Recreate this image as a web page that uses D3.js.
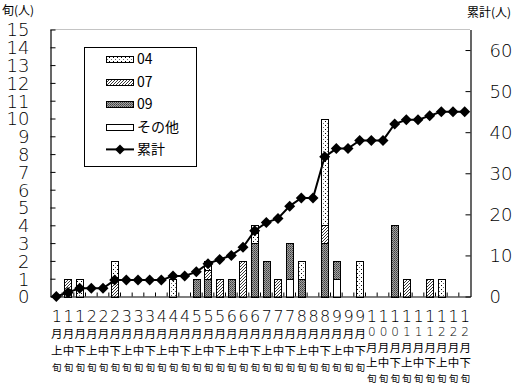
<!DOCTYPE html>
<html lang="ja">
<head>
<meta charset="UTF-8">
<title>旬別人数</title>
<script src="https://cdn.jsdelivr.net/npm/d3@7"></script>
<style>
    body { margin: 0; background: #fff; }
    svg text { font-family: "Liberation Sans", "Noto Sans CJK JP", sans-serif; fill: #000; }
    .cjk { font-family: "Noto Sans CJK JP", sans-serif; }
    .num { font-family: "DejaVu Sans", sans-serif; font-weight: 200; }
</style>
</head>
<body>
<svg id="chart" width="514" height="386"></svg>
<script>
    // categories (1月上旬 ... 12月下旬)
    var categories = [
        "1月上旬", "1月中旬", "1月下旬", "2月上旬", "2月中旬", "2月下旬",
        "3月上旬", "3月中旬", "3月下旬", "4月上旬", "4月中旬", "4月下旬",
        "5月上旬", "5月中旬", "5月下旬", "6月上旬", "6月中旬", "6月下旬",
        "7月上旬", "7月中旬", "7月下旬", "8月上旬", "8月中旬", "8月下旬",
        "9月上旬", "9月中旬", "9月下旬", "10月上旬", "10月中旬", "10月下旬",
        "11月上旬", "11月中旬", "11月下旬", "12月上旬", "12月中旬", "12月下旬"
    ];
    var s04   = [0,0,1,0,0,1, 0,0,0,0,1,0, 0,0.5,0,0,0,1, 0,0,0,1,0,6, 0,0,2,0,0,0, 0,0,0,1,0,0];
    var s07   = [0,1,0,0,0,1, 0,0,0,0,0,0, 0,0.5,1,0,2,0, 0,1,0,0,0,1, 0,0,0,0,0,0, 1,0,1,0,0,0];
    var s09   = [0,0,0,0,0,0, 0,0,0,0,0,0, 1,1,0,1,0,3, 2,0,2,1,0,3, 1,0,0,0,0,4, 0,0,0,0,0,0];
    var other = [0,0,0,0,0,0, 0,0,0,0,0,0, 0,0,0,0,0,0, 0,0,1,0,0,0, 1,0,0,0,0,0, 0,0,0,0,0,0];
    var cumulative = [0,1,2,2,2,4, 4,4,4,4,5,5, 6,8,9,10,12,16, 18,19,22,24,24,34, 36,36,38,38,38,42, 43,43,44,45,45,45];
    var leftTicks = d3.range(0, 16);
    var rightTicks = [0, 10, 20, 30, 40, 50, 60];

    var svg = d3.select("#chart");
    var pL = 50.5, pR = 470.5, pT = 29.5, pB = 296.5;

    // patterns
    var defs = svg.append("defs");
    var pDot = defs.append("pattern").attr("id", "p04").attr("patternUnits", "userSpaceOnUse")
        .attr("width", 4).attr("height", 4);
    pDot.append("rect").attr("width", 4).attr("height", 4).attr("fill", "#fff");
    pDot.append("rect").attr("x", 1).attr("y", 1).attr("width", 1).attr("height", 1).attr("fill", "#000");
    pDot.append("rect").attr("x", 3).attr("y", 3).attr("width", 1).attr("height", 1).attr("fill", "#666");

    var pHatch = defs.append("pattern").attr("id", "p07").attr("patternUnits", "userSpaceOnUse")
        .attr("width", 3).attr("height", 3);
    pHatch.append("rect").attr("width", 3).attr("height", 3).attr("fill", "#fff");
    pHatch.append("path").attr("d", "M0,3 L3,0 M-1,1 L1,-1 M2,4 L4,2")
        .attr("stroke", "#222").attr("stroke-width", 0.9);

    var pGray = defs.append("pattern").attr("id", "p09").attr("patternUnits", "userSpaceOnUse")
        .attr("width", 2).attr("height", 2);
    pGray.append("rect").attr("width", 2).attr("height", 2).attr("fill", "#a2a2a2");
    pGray.append("rect").attr("width", 1).attr("height", 1).attr("fill", "#404040");
    pGray.append("rect").attr("x", 1).attr("y", 1).attr("width", 1).attr("height", 1).attr("fill", "#5c5c5c");

    var x = d3.scaleBand().domain(categories).range([pL, pR]).paddingInner(0.38).paddingOuter(0.19);
    var xStep = d3.scaleBand().domain(categories).range([pL, pR]);
    var y = d3.scaleLinear().domain([0, 15]).range([pB, pT]);
    var y2 = d3.scaleLinear().domain([0, 65]).range([pB, pT]);

    // top border (dotted)
    svg.append("line").attr("x1", pL).attr("x2", pR).attr("y1", pT).attr("y2", pT)
        .attr("stroke", "#888").attr("stroke-dasharray", "1,1");

    // stacked bars
    var rows = categories.map(function (c, i) {
        return { cat: c, other: other[i], s09: s09[i], s07: s07[i], s04: s04[i] };
    });
    var keys = ["other", "s09", "s07", "s04"];
    var fills = { other: "#fff", s09: "url(#p09)", s07: "url(#p07)", s04: "url(#p04)" };
    var stack = d3.stack().keys(keys)(rows);
    stack.forEach(function (layer) {
        svg.append("g").selectAll("rect")
            .data(layer.filter(function (d) { return d[1] - d[0] > 0; }))
            .join("rect")
            .attr("x", function (d) { return Math.round(x(d.data.cat)) + 0.5; })
            .attr("width", Math.round(x.bandwidth()))
            .attr("y", function (d) { return Math.round(y(d[1])) + 0.5; })
            .attr("height", function (d) { return Math.round(y(d[0])) - Math.round(y(d[1])); })
            .attr("fill", fills[layer.key])
            .attr("stroke", "#000").attr("stroke-width", 1);
    });

    // axes
    var axL = svg.append("g").attr("transform", "translate(" + pL + ",0)")
        .call(d3.axisLeft(y).tickValues(leftTicks).tickSizeInner(-5).tickSizeOuter(0).tickPadding(21));
    var axR = svg.append("g").attr("transform", "translate(" + pR + ",0)")
        .call(d3.axisRight(y2).tickValues(rightTicks).tickSizeInner(-5).tickSizeOuter(0).tickPadding(19));
    var axB = svg.append("g").attr("transform", "translate(0," + pB + ")")
        .call(d3.axisBottom(xStep).tickValues(categories.slice(1)).tickSizeInner(-4).tickSizeOuter(0).tickFormat(""));
    axB.selectAll(".tick").attr("transform", function (d) { return "translate(" + (xStep(d)) + ",0)"; });
    [axL, axR, axB].forEach(function (a) {
        a.select(".domain").attr("stroke", "#000").attr("stroke-width", 1.2);
        a.selectAll(".tick line").attr("stroke", "#000");
    });
    axL.selectAll("text").attr("class", "num").style("font-size", "18px").attr("dy", "0.36em");
    axR.selectAll("text").attr("class", "num").style("font-size", "18px").attr("dy", "0.36em");

    // x labels, written vertically, one character per row
    var labels = svg.append("g");
    categories.forEach(function (c, i) {
        var cx = xStep(c) + xStep.bandwidth() / 2 + 0.5;
        var m = c.match(/^(\d+)月(.)旬$/);
        var chars;
        if (m[1].length === 1) {
            chars = [[m[1], 16, 322, "num"], ["月", 11.5, 338, "cjk"], [m[2], 11.5, 355, "cjk"], ["旬", 9.5, 371, "cjk"]];
        } else {
            chars = [[m[1][0], 16, 322, "num"], [m[1][1], 12, 336, "num"], ["月", 11.5, 352, "cjk"], [m[2], 11.5, 367, "cjk"], ["旬", 9.5, 382, "cjk"]];
        }
        chars.forEach(function (ch) {
            labels.append("text").attr("text-anchor", "middle").attr("x", cx).attr("y", ch[2])
                .attr("class", ch[3]).style("font-size", ch[1] + "px").text(ch[0]);
        });
    });

    // cumulative line
    var line = d3.line()
        .x(function (d, i) { return xStep(categories[i]) + xStep.bandwidth() / 2; })
        .y(function (d) { return y2(d); });
    svg.append("path").datum(cumulative).attr("d", line)
        .attr("fill", "none").attr("stroke", "#000").attr("stroke-width", 2);
    svg.append("g").selectAll("path").data(cumulative).join("path")
        .attr("transform", function (d, i) {
            return "translate(" + (xStep(categories[i]) + xStep.bandwidth() / 2) + "," + y2(d) + ")";
        })
        .attr("d", "M0,-5.5 L5.5,0 L0,5.5 L-5.5,0 Z").attr("fill", "#000");

    // axis titles
    svg.append("text").attr("class", "cjk").attr("x", 2).attr("y", 15).style("font-size", "12px").text("旬(人)");
    svg.append("text").attr("class", "cjk").attr("x", 467).attr("y", 17).style("font-size", "12px").text("累計(人)");

    // legend
    var lg = svg.append("g");
    lg.append("rect").attr("x", 84.5).attr("y", 47.5).attr("width", 112).attr("height", 119)
        .attr("fill", "#fff").attr("stroke", "#000");
    var legendItems = [["04", "url(#p04)"], ["07", "url(#p07)"], ["09", "url(#p09)"], ["その他", "#fff"]];
    legendItems.forEach(function (it, i) {
        var yy = 59 + i * 22.6;
        lg.append("rect").attr("x", 106.5).attr("y", Math.round(yy - 3) + 0.5).attr("width", 27).attr("height", 6)
            .attr("fill", it[1]).attr("stroke", "#000");
        lg.append("text").attr("class", "cjk").attr("x", 137).attr("y", yy + 5).style("font-size", "14px").text(it[0]);
    });
    var ly = 59 + 4 * 22.6;
    lg.append("line").attr("x1", 106).attr("x2", 134).attr("y1", ly).attr("y2", ly).attr("stroke", "#000").attr("stroke-width", 2);
    lg.append("path").attr("transform", "translate(120," + ly + ")").attr("d", "M0,-5 L5,0 L0,5 L-5,0 Z");
    lg.append("text").attr("class", "cjk").attr("x", 137).attr("y", ly + 5).style("font-size", "14px").text("累計");
</script>
</body>
</html>
